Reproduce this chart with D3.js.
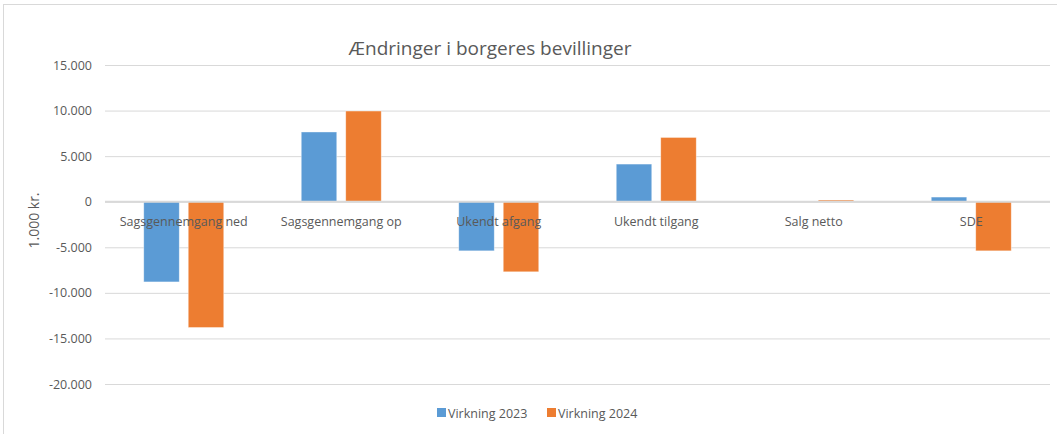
<!DOCTYPE html>
<html>
<head>
<meta charset="utf-8">
<script src="https://cdn.jsdelivr.net/npm/d3@7"></script>
<style>
  body { margin: 0; background: #fff; }
  text { font-family: "Open Sans", sans-serif; fill: #595959; }
</style>
</head>
<body>
<div class="chart"></div>
<script>
var categories = ["Sagsgennemgang ned", "Sagsgennemgang op", "Ukendt afgang", "Ukendt tilgang", "Salg netto", "SDE"];
var series = ["Virkning 2023", "Virkning 2024"];
var virkning2023 = [-8800, 7650, -5390, 4130, 0, 510];
var virkning2024 = [-13800, 9950, -7690, 7050, 180, -5390];
var yTicks = [15000, 10000, 5000, 0, -5000, -10000, -15000, -20000];
var colors = ["#5b9bd5", "#ed7d31"];

var svgWidth = 1057;
var svgHeight = 434;
var margin = { top: 65, right: 7, bottom: 50, left: 105 };
var width = svgWidth - margin.left - margin.right;
var height = svgHeight - margin.top - margin.bottom;

var svg = d3.select(".chart")
  .append("svg")
  .attr("width", svgWidth)
  .attr("height", svgHeight);

// chart border (continues past the right and bottom edges)
svg.append("rect")
  .attr("x", 3.5).attr("y", 4.5)
  .attr("width", svgWidth).attr("height", svgHeight)
  .attr("fill", "none")
  .attr("stroke", "#d9d9d9");

var chart = svg.append("g")
  .attr("transform", "translate(" + margin.left + "," + margin.top + ")");

var locale = d3.formatLocale({ decimal: ",", thousands: ".", grouping: [3], currency: ["", " kr."], minus: "-" });
var fmt = locale.format(",d");

var x0 = d3.scaleBand().domain(categories).range([0, width]);
var groupW = 80;
var x1 = d3.scaleBand().domain(series)
  .range([(x0.bandwidth() - groupW) / 2, (x0.bandwidth() + groupW) / 2])
  .paddingInner(0.202);
var y = d3.scaleLinear().domain([-20000, 15000]).range([height, 0]);

// gridlines + tick labels
var leftAxis = d3.axisLeft(y).tickValues(yTicks).tickFormat(fmt).tickSize(-width).tickPadding(13);
var yAxis = chart.append("g").call(leftAxis);
yAxis.select(".domain").remove();
yAxis.selectAll(".tick line").attr("stroke", "#d9d9d9");
yAxis.selectAll(".tick text")
  .style("font-size", "12.5px")
  .attr("fill", "#595959");

var table = categories.map(function(c, i) {
  return { cat: c, values: [virkning2023[i], virkning2024[i]] };
});

var groups = chart.selectAll(".grp")
  .data(table)
  .enter().append("g")
  .attr("transform", function(d) { return "translate(" + x0(d.cat) + ",0)"; });

groups.selectAll("rect")
  .data(function(d) { return d.values.map(function(v, j) { return { s: series[j], v: v, j: j }; }); })
  .enter().append("rect")
  .attr("x", function(d) { return x1(d.s); })
  .attr("width", x1.bandwidth())
  .attr("y", function(d) { return y(Math.max(0, d.v)); })
  .attr("height", function(d) { return Math.abs(y(d.v) - y(0)); })
  .attr("fill", function(d) { return colors[d.j]; })
  .attr("stroke", "#fff")
  .attr("stroke-opacity", 0.5)
  .attr("stroke-width", 0.75);

// zero line
chart.append("line")
  .attr("x1", 0).attr("x2", width)
  .attr("y1", y(0)).attr("y2", y(0))
  .attr("stroke", "#d9d9d9")
  .attr("stroke-width", 2);

// category labels, drawn on top of the bars
chart.selectAll(".cat")
  .data(categories)
  .enter().append("text")
  .attr("x", function(d) { return x0(d) + x0.bandwidth() / 2; })
  .attr("y", y(0) + 24)
  .attr("text-anchor", "middle")
  .style("font-size", "12.5px")
  .text(function(d) { return d; });

// title
svg.append("text")
  .attr("x", 490)
  .attr("y", 55)
  .attr("text-anchor", "middle")
  .style("font-size", "19px")
  .text("Ændringer i borgeres bevillinger");

// y axis title
svg.append("text")
  .attr("transform", "translate(39," + (margin.top + height / 2 - 4) + ") rotate(-90)")
  .attr("text-anchor", "middle")
  .style("font-size", "14px")
  .text("1.000 kr.");

// legend
var legend = svg.append("g").attr("transform", "translate(437,408)");
var legendX = [0, 110];
series.forEach(function(s, i) {
  legend.append("rect")
    .attr("x", legendX[i]).attr("y", 0)
    .attr("width", 9).attr("height", 9)
    .attr("fill", colors[i]);
  legend.append("text")
    .attr("x", legendX[i] + 11)
    .attr("y", 9.5)
    .style("font-size", "12.5px")
    .text(s);
});
</script>
</body>
</html>
